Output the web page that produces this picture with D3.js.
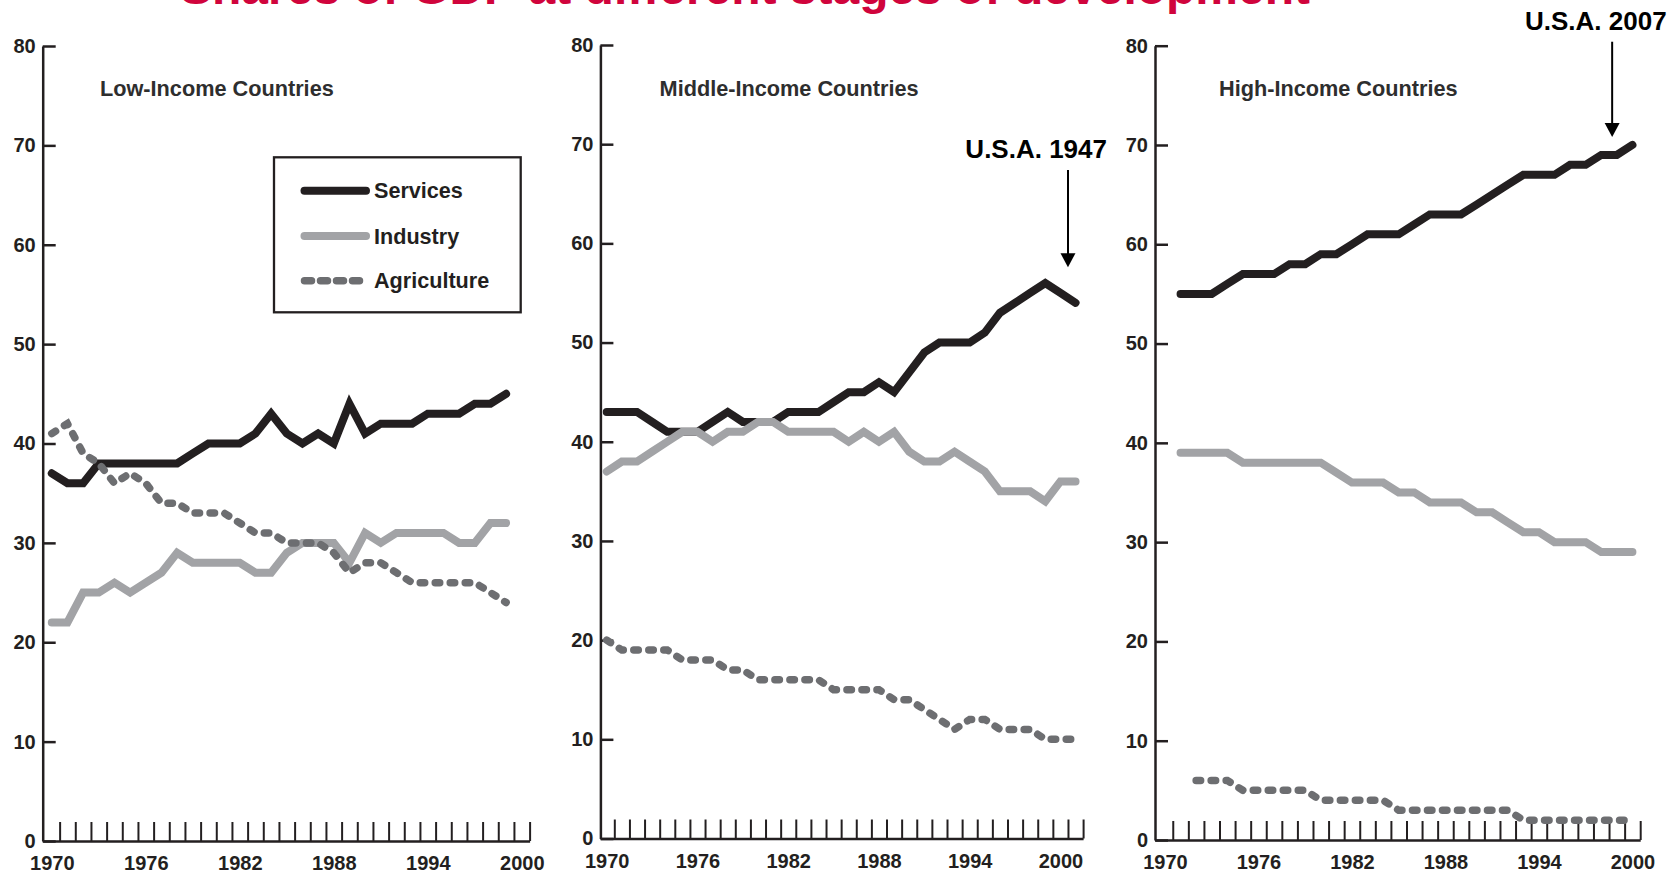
<!DOCTYPE html>
<html>
<head>
<meta charset="utf-8">
<script src="https://cdn.jsdelivr.net/npm/d3@7"></script>
<style>
  body { margin: 0; background: #fff; }
  text { font-family: "Liberation Sans", Arial, sans-serif; font-weight: bold; }
</style>
</head>
<body>
<div id="chart"></div>
<script>
// ---- data (share of GDP, %) ----
var lowYears = [1970,1971,1972,1973,1974,1975,1976,1977,1978,1979,1980,1981,1982,1983,1984,
                1985,1986,1987,1988,1989,1990,1991,1992,1993,1994,1995,1996,1997,1998,1999];
var lowServices    = [37,36,36,38,38,38,38,38,38,39,40,40,40,41,43,41,40,41,40,44,41,42,42,42,43,43,43,44,44,45];
var lowIndustry    = [22,22,25,25,26,25,26,27,29,28,28,28,28,27,27,29,30,30,30,28,31,30,31,31,31,31,30,30,32,32];
var lowAgriculture = [41,42,39,38,36,37,36,34,34,33,33,33,32,31,31,30,30,30,29,27,28,28,27,26,26,26,26,26,25,24];

var midYears = [1970,1971,1972,1973,1974,1975,1976,1977,1978,1979,1980,1981,1982,1983,1984,1985,
                1986,1987,1988,1989,1990,1991,1992,1993,1994,1995,1996,1997,1998,1999,2000,2001];
var midServices    = [43,43,43,42,41,41,41,42,43,42,42,42,43,43,43,44,45,45,46,45,47,49,50,50,50,51,53,54,55,56,55,54];
var midIndustry    = [37,38,38,39,40,41,41,40,41,41,42,42,41,41,41,41,40,41,40,41,39,38,38,39,38,37,35,35,35,34,36,36];
var midAgriculture = [20,19,19,19,19,18,18,18,17,17,16,16,16,16,16,15,15,15,15,14,14,13,12,11,12,12,11,11,11,10,10,10];

var highYears = [1971,1972,1973,1974,1975,1976,1977,1978,1979,1980,1981,1982,1983,1984,1985,
                 1986,1987,1988,1989,1990,1991,1992,1993,1994,1995,1996,1997,1998,1999,2000];
var highServices = [55,55,55,56,57,57,57,58,58,59,59,60,61,61,61,62,63,63,63,64,65,66,67,67,67,68,68,69,69,70];
var highIndustry = [39,39,39,39,38,38,38,38,38,38,37,36,36,36,35,35,34,34,34,33,33,32,31,31,30,30,30,29,29,29];
var highAgriYears = [1972,1973,1974,1975,1976,1977,1978,1979,1980,1981,1982,1983,1984,1985,
                     1986,1987,1988,1989,1990,1991,1992,1993,1994,1995,1996,1997,1998,1999,2000];
var highAgriculture = [6,6,6,5,5,5,5,5,4,4,4,4,4,3,3,3,3,3,3,3,3,2,2,2,2,2,2,2,2];

var yearLabels = [1970, 1976, 1982, 1988, 1994, 2000];
var valueTicks = [0, 10, 20, 30, 40, 50, 60, 70, 80];
var seriesNames = ["Services", "Industry", "Agriculture"];

// ---- styles ----
var ink = "#231f20";
var styles = {
  Services:    {color: "#231f20", width: 8,   dash: null},
  Industry:    {color: "#a2a3a6", width: 8,   dash: null},
  Agriculture: {color: "#6d6e71", width: 7.5, dash: "4.5,10.5"}
};

// ---- layout of the three panels ----
var panels = [
  {title: "Low-Income Countries", left: 42.7, right: 529.6, x0: 1969.42, x1: 2000.5, top: 46, bottom: 841, titleX: 100,
   series: [[lowYears, lowServices], [lowYears, lowIndustry], [lowYears, lowAgriculture]]},
  {title: "Middle-Income Countries", left: 600.4, right: 1083.1, x0: 1969.58, x1: 2001.5, top: 45, bottom: 838.5, titleX: 659.6,
   series: [[midYears, midServices], [midYears, midIndustry], [midYears, midAgriculture]]},
  {title: "High-Income Countries", left: 1155, right: 1640.2, x0: 1969.36, x1: 2000.5, top: 45.7, bottom: 840, titleX: 1219,
   series: [[highYears, highServices], [highYears, highIndustry], [highAgriYears, highAgriculture]]}
];

var svg = d3.select("#chart")
  .append("svg")
    .attr("width", 1678)
    .attr("height", 874);

// title (clipped at the top, as in the source)
svg.append("text")
  .attr("x", 180)
  .attr("y", 3.5)
  .style("font-size", "48px")
  .style("fill", "#d0043c")
  .text("Shares of GDP at different stages of development");

panels.forEach(function(p) {
  var x = d3.scaleLinear().domain([p.x0, p.x1]).range([p.left, p.right]);
  var y = d3.scaleLinear().domain([0, 80]).range([p.bottom, p.top]);
  p.x = x; p.y = y;

  var halfYears = d3.range(1970.5, p.x1 + 0.01, 1);

  // x axis: line with small upward ticks between years
  var xAxis = svg.append("g")
    .attr("transform", "translate(0," + p.bottom + ")")
    .call(d3.axisBottom(x).tickValues(halfYears).tickSizeInner(-19).tickSizeOuter(0).tickFormat(""));
  xAxis.select(".domain").attr("stroke", ink).attr("stroke-width", 2.5);
  xAxis.selectAll(".tick line").attr("stroke", ink).attr("stroke-width", 2);

  // x labels
  var xLab = svg.append("g")
    .attr("transform", "translate(0," + p.bottom + ")")
    .call(d3.axisBottom(x).tickValues(yearLabels).tickSize(0).tickPadding(15).tickFormat(d3.format("d")));
  xLab.select(".domain").remove();
  xLab.selectAll("text").style("font-size", "20px").attr("fill", ink);

  // y axis with inward ticks
  var yAxis = svg.append("g")
    .attr("transform", "translate(" + p.left + ",0)")
    .call(d3.axisLeft(y).tickValues(valueTicks).tickSizeInner(-13).tickSizeOuter(0).tickPadding(7));
  yAxis.select(".domain").attr("stroke", ink).attr("stroke-width", 2.5);
  yAxis.selectAll(".tick line").attr("stroke", ink).attr("stroke-width", 2.5);
  yAxis.selectAll("text").style("font-size", "20px").attr("fill", ink);

  // panel title
  svg.append("text")
    .attr("x", p.titleX)
    .attr("y", 96)
    .style("font-size", "21.7px")
    .style("fill", "#2e2e2e")
    .text(p.title);

  // lines
  var line = d3.line()
    .x(function(d) { return x(d.year); })
    .y(function(d) { return y(d.value); });

  p.series.forEach(function(s, i) {
    var st = styles[seriesNames[i]];
    var pts = s[0].map(function(yr, j) { return {year: yr, value: s[1][j]}; });
    svg.append("path")
      .datum(pts)
      .attr("d", line)
      .attr("fill", "none")
      .attr("stroke", st.color)
      .attr("stroke-width", st.width)
      .attr("stroke-linecap", "round")
      .attr("stroke-dasharray", st.dash);
  });
});

// legend
var legend = svg.append("g");
legend.append("rect")
  .attr("x", 274).attr("y", 157.3)
  .attr("width", 246.7).attr("height", 155)
  .attr("fill", "none")
  .attr("stroke", ink)
  .attr("stroke-width", 2.3);
var legendY = [190.7, 236, 280.7];
seriesNames.forEach(function(name, i) {
  var st = styles[name];
  legend.append("line")
    .attr("x1", 304.5).attr("x2", name === "Agriculture" ? 364.5 : 366)
    .attr("y1", legendY[i]).attr("y2", legendY[i])
    .attr("stroke", st.color)
    .attr("stroke-width", st.width)
    .attr("stroke-linecap", "round")
    .attr("stroke-dasharray", name === "Agriculture" ? "7,9" : null);
  legend.append("text")
    .attr("x", 374)
    .attr("y", legendY[i] + 7.7)
    .style("font-size", "21.6px")
    .style("fill", ink)
    .text(name);
});

// U.S.A. annotations
var notes = [
  {panel: 1, label: "U.S.A. 1947", year: 2000.5, from: 67.4, to: 57.6, lx: 1107, ly: 158, anchor: "end"},
  {panel: 2, label: "U.S.A. 2007", year: 1998.7, from: 80.4, to: 70.8, lx: 1525, ly: 30, anchor: "start"}
];
notes.forEach(function(n) {
  var p = panels[n.panel];
  var ax = p.x(n.year), y1 = p.y(n.from), y2 = p.y(n.to);
  svg.append("line")
    .attr("x1", ax).attr("x2", ax)
    .attr("y1", y1).attr("y2", y2 - 12)
    .attr("stroke", "#000")
    .attr("stroke-width", 2);
  svg.append("path")
    .attr("d", "M" + (ax - 7.5) + "," + (y2 - 14) + "L" + (ax + 7.5) + "," + (y2 - 14) + "L" + ax + "," + y2 + "Z")
    .attr("fill", "#000");
  svg.append("text")
    .attr("x", n.lx)
    .attr("y", n.ly)
    .attr("text-anchor", n.anchor)
    .style("font-size", "26px")
    .style("fill", "#000")
    .text(n.label);
});
</script>
</body>
</html>
